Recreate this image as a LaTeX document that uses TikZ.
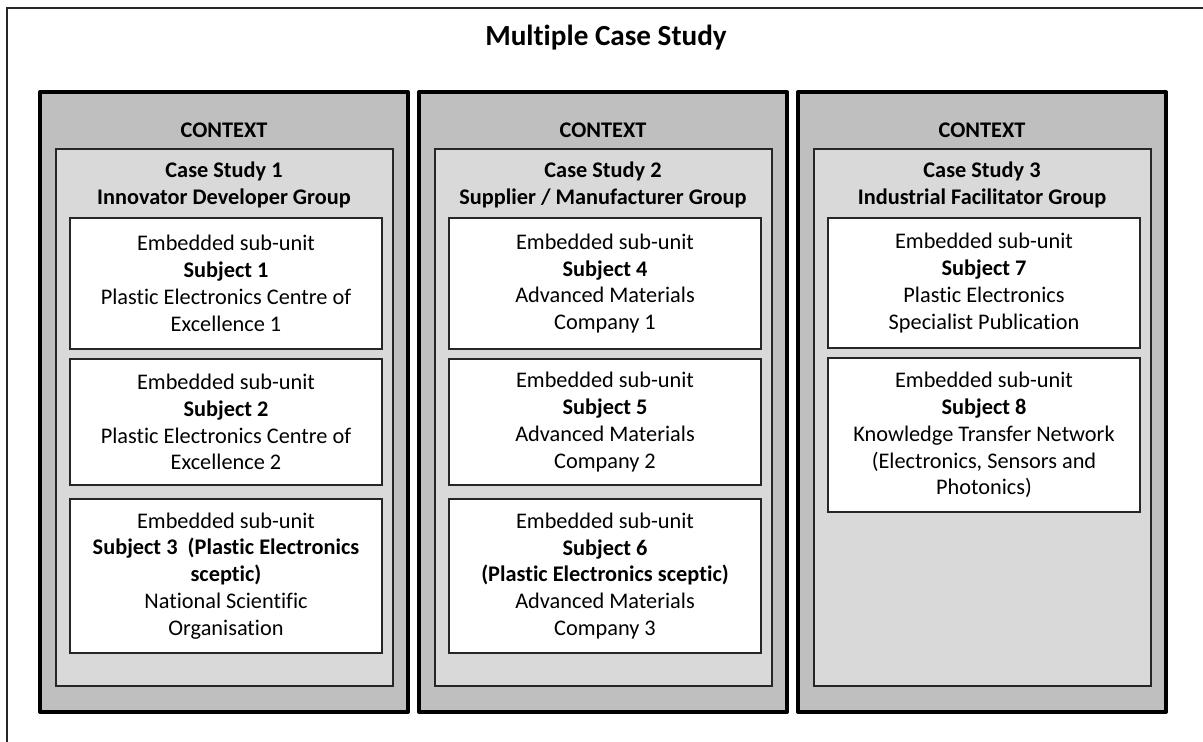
\documentclass[tikz,border=0pt]{standalone}
\usepackage{fontspec}
\setmainfont{Carlito}[Ligatures={NoCommon,NoContextual}]
\usetikzlibrary{positioning}
\definecolor{ctxgray}{HTML}{BFBFBF}
\definecolor{casegray}{HTML}{D9D9D9}
\newcommand{\unitfont}{\fontsize{12.7}{15.3}\selectfont}
\tikzset{
  frameline/.style={draw=black!85, line width=1pt},
  ctxbox/.style  ={draw=black, line width=2.4pt, fill=ctxgray, line join=round,
                   minimum width=7.36cm, minimum height=12.4cm, inner sep=0pt},
  casebox/.style ={draw=black!85, line width=1.1pt, fill=casegray,
                   minimum width=6.74cm, minimum height=10.74cm, inner sep=0pt},
  unitbox/.style ={draw=black!85, line width=1.1pt, fill=white, align=center,
                   minimum width=6.24cm, inner sep=0pt, font=\unitfont},
  headtext/.style={align=center, font=\unitfont\bfseries, inner sep=0pt},
  titletext/.style={font=\fontsize{16.6}{19}\selectfont\bfseries, inner sep=0pt},
}
\begin{document}
\begin{tikzpicture}[x=0.02cm,y=-0.02cm]
    \useasboundingbox (0,0) rectangle (1203,742);
    % --- outer frame ---
    \draw[frameline] (7,742) -- (7,8) -- (1203,8);
    \node[titletext] (title) at (606,38) {Multiple Case Study};
    % --- context and case boxes ---
    \foreach \i/\xx in {1/224,2/603,3/982}{
        \node[ctxbox] (ctx\i) at (\xx,402) {};
        \node[casebox] (case\i) at (\xx+0.5,417.5) {};
        \node[headtext] (ctxlabel\i) at (\xx,130) {CONTEXT};
    }
    \node[headtext] (head1) at (224,185) {Case Study 1\\Innovator Developer Group};
    \node[headtext] (head2) at (603,185) {Case Study 2\\Supplier / Manufacturer Group};
    \node[headtext] (head3) at (982,185) {Case Study 3\\Industrial Facilitator Group};
    % --- case study 1 ---
    \node[unitbox,minimum height=2.62cm] (sub1) at (226,283.5)
        {Embedded sub-unit\\\textbf{Subject 1}\\Plastic Electronics Centre of\\Excellence 1};
    \node[unitbox,minimum height=2.52cm] (sub2) at (226,422)
        {Embedded sub-unit\\\textbf{Subject 2}\\Plastic Electronics Centre of\\Excellence 2};
    \node[unitbox,minimum height=3.08cm] (sub3) at (226,576)
        {Embedded sub-unit\\\textbf{Subject 3\ \ (Plastic Electronics}\\\textbf{sceptic)}\\National Scientific\\Organisation};
    % --- case study 2 ---
    \node[unitbox,minimum height=2.62cm] (sub4) at (605,283.5)
        {Embedded sub-unit\\\textbf{Subject 4}\\Advanced Materials\\Company 1};
    \node[unitbox,minimum height=2.52cm] (sub5) at (605,422)
        {Embedded sub-unit\\\textbf{Subject 5}\\Advanced Materials\\Company 2};
    \node[unitbox,minimum height=3.08cm] (sub6) at (605,576)
        {Embedded sub-unit\\\textbf{Subject 6}\\\textbf{(Plastic Electronics sceptic)}\\Advanced Materials\\Company 3};
    % --- case study 3 ---
    \node[unitbox,minimum height=2.6cm] (sub7) at (984,283)
        {Embedded sub-unit\\\textbf{Subject 7}\\Plastic Electronics\\Specialist Publication};
    \node[unitbox,minimum height=3.08cm] (sub8) at (984,435)
        {Embedded sub-unit\\\textbf{Subject 8}\\Knowledge Transfer Network\\(Electronics, Sensors and\\Photonics)};
\end{tikzpicture}
\end{document}
